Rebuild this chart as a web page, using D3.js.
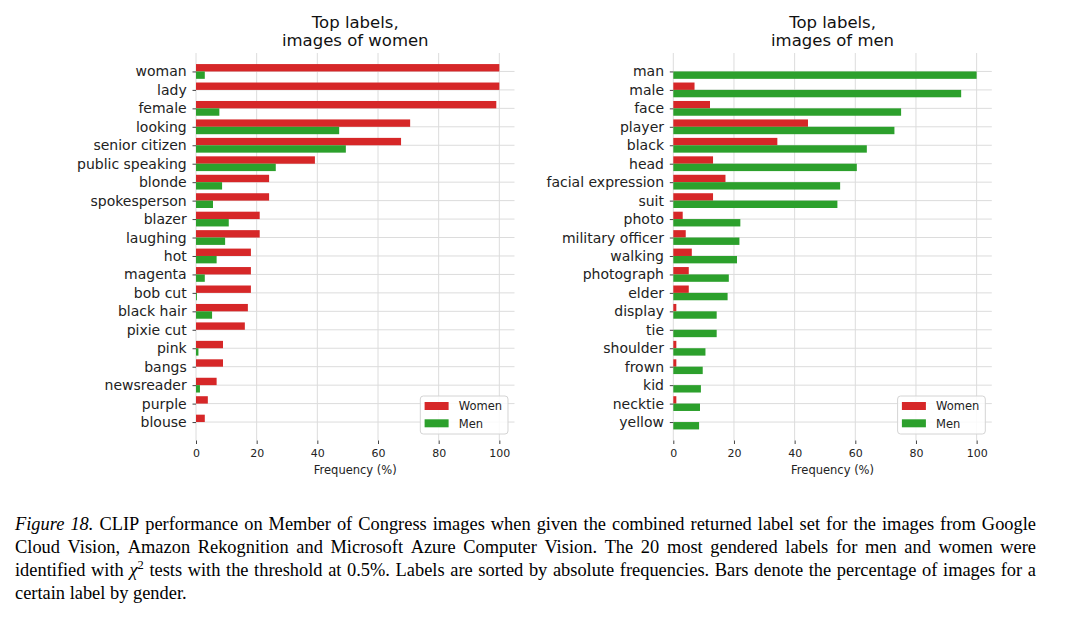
<!DOCTYPE html>
<html>
<head>
<meta charset="utf-8">
<script src="https://cdn.jsdelivr.net/npm/d3@7"></script>
<style>
  body { margin: 0; background: #fff; }
  svg { display: block; }
</style>
</head>
<body>
<svg id="fig" width="1069" height="617"></svg>
<script>
// values (% of images)
var womenLabels = ["woman", "lady", "female", "looking", "senior citizen", "public speaking", "blonde",
    "spokesperson", "blazer", "laughing", "hot", "magenta", "bob cut", "black hair", "pixie cut",
    "pink", "bangs", "newsreader", "purple", "blouse"];
var womenLabelsWomen = [100, 100, 99, 70.6, 67.6, 39.2, 24.1, 24.1, 21, 21, 18.1, 18.1, 18.1, 17.1, 16.1, 8.9, 8.9, 6.8, 3.9, 2.9];
var womenLabelsMen = [2.9, 0, 7.7, 47.2, 49.4, 26.3, 8.6, 5.6, 10.8, 9.6, 6.8, 2.9, 0.3, 5.3, 0, 0.8, 0, 1.3, 0, 0];

var menLabels = ["man", "male", "face", "player", "black", "head", "facial expression", "suit", "photo",
    "military officer", "walking", "photograph", "elder", "display", "tie", "shoulder", "frown",
    "kid", "necktie", "yellow"];
var menLabelsWomen = [0, 7, 12.1, 44.4, 34.3, 13.1, 17.2, 13.1, 3.1, 4.1, 6.1, 5.1, 5.1, 1, 0, 1, 1, 0, 1, 0];
var menLabelsMen = [100, 94.9, 75.1, 72.9, 63.8, 60.5, 55, 54.1, 22.1, 21.8, 21, 18.3, 17.9, 14.3, 14.3, 10.6, 9.7, 9.1, 8.8, 8.5];

var xTicks = [0, 20, 40, 60, 80, 100];
var seriesNames = ["Women", "Men"];
var seriesColors = ["#d62728", "#2ca02c"];

var captionLines = [
    "Figure 18. CLIP performance on Member of Congress images when given the combined returned label set for the images from Google",
    "Cloud Vision, Amazon Rekognition and Microsoft Azure Computer Vision.  The 20 most gendered labels for men and women were",
    "identified with χ² tests with the threshold at 0.5%. Labels are sorted by absolute frequencies. Bars denote the percentage of images for a",
    "certain label by gender."
];

var svg = d3.select("#fig");
var sans = "DejaVu Sans, sans-serif";
var plotTop = 53, plotBottom = 440.5;

function drawPanel(opts) {
    var x = d3.scaleLinear().domain([0, 105]).range([opts.left, opts.right]);
    var y = d3.scaleLinear().domain([-1, 20]).range([plotTop, plotBottom]);
    var rows = d3.range(opts.labels.length);
    var barH = y(0.4) - y(0);
    var g = svg.append("g");

    // grid
    g.selectAll(".vgrid").data(xTicks).enter().append("line")
        .attr("x1", d => x(d)).attr("x2", d => x(d))
        .attr("y1", plotTop).attr("y2", plotBottom)
        .attr("stroke", "#dcdcdc").attr("stroke-width", 1);
    g.selectAll(".hgrid").data(rows).enter().append("line")
        .attr("x1", opts.left).attr("x2", opts.right)
        .attr("y1", d => y(d)).attr("y2", d => y(d))
        .attr("stroke", "#dcdcdc").attr("stroke-width", 1);

    // bars: women above the tick, men below
    g.selectAll(".bw").data(opts.women).enter().append("rect")
        .attr("x", x(0))
        .attr("y", (d, i) => y(i - 0.4))
        .attr("width", d => x(d) - x(0))
        .attr("height", barH)
        .attr("fill", seriesColors[0]);
    g.selectAll(".bm").data(opts.men).enter().append("rect")
        .attr("x", x(0))
        .attr("y", (d, i) => y(i))
        .attr("width", d => x(d) - x(0))
        .attr("height", barH)
        .attr("fill", seriesColors[1]);

    // axes
    var yAxis = g.append("g")
        .attr("transform", `translate(${opts.left},0)`)
        .call(d3.axisLeft(y).tickValues(rows).tickFormat(i => opts.labels[i]).tickSize(3.5).tickPadding(5.8));
    yAxis.select(".domain").remove();
    yAxis.selectAll("line").attr("stroke", "#444");
    yAxis.selectAll("text").attr("font-family", sans).attr("font-size", 14).attr("fill", "#222");

    var xAxis = g.append("g")
        .attr("transform", `translate(0,${plotBottom})`)
        .call(d3.axisBottom(x).tickValues(xTicks).tickSize(3.5).tickPadding(5));
    xAxis.select(".domain").remove();
    xAxis.selectAll("line").attr("stroke", "#444");
    xAxis.selectAll("text").attr("font-family", sans).attr("font-size", 11).attr("fill", "#222");

    g.append("text")
        .attr("x", (opts.left + opts.right) / 2).attr("y", 474)
        .attr("text-anchor", "middle")
        .attr("font-family", sans).attr("font-size", 11.5).attr("fill", "#222")
        .text("Frequency (%)");

    // title
    var cx = (opts.left + opts.right) / 2;
    opts.title.forEach(function (t, i) {
        g.append("text")
            .attr("x", cx).attr("y", 27.5 + i * 18.8)
            .attr("text-anchor", "middle")
            .attr("font-family", sans).attr("font-size", 16.5).attr("fill", "#111")
            .text(t);
    });

    // legend
    var lx = opts.right - 6.5 - 87.7, ly = 396;
    var leg = g.append("g").attr("transform", `translate(${lx},${ly})`);
    leg.append("rect")
        .attr("width", 87.7).attr("height", 38).attr("rx", 3)
        .attr("fill", "#fff").attr("fill-opacity", 0.85)
        .attr("stroke", "#d4d4d4");
    seriesNames.forEach(function (name, i) {
        leg.append("rect")
            .attr("x", 4.3).attr("y", 6 + i * 17.3)
            .attr("width", 24).attr("height", 8)
            .attr("fill", seriesColors[i]);
        leg.append("text")
            .attr("x", 38.5).attr("y", 14.2 + i * 17.3)
            .attr("font-family", sans).attr("font-size", 11.5).attr("fill", "#222")
            .text(name);
    });
}

drawPanel({ left: 196, right: 514.5, labels: womenLabels, women: womenLabelsWomen, men: womenLabelsMen,
    title: ["Top labels,", "images of women"] });
drawPanel({ left: 673.3, right: 991.8, labels: menLabels, women: menLabelsWomen, men: menLabelsMen,
    title: ["Top labels,", "images of men"] });

// caption, justified word by word
var capLeft = 15, capRight = 1036, serif = "Liberation Serif, Times New Roman, serif";
var cap = svg.append("g").attr("font-family", serif).attr("font-size", 18.4).attr("fill", "#000");

captionLines.forEach(function (line, li) {
    var words = line.split(/ +/);
    var baseline = 529.5 + li * 23.2;
    var nodes = words.map(function (w, wi) {
        var t = cap.append("text").attr("y", baseline);
        if (li === 0 && wi < 2) {
            t.attr("font-style", "italic").text(w);
        } else if (w === "χ²") {
            t.append("tspan").attr("font-style", "italic").text("χ");
            t.append("tspan").attr("font-size", 12.5).attr("dy", -7).text("2");
        } else {
            t.text(w);
        }
        return t;
    });
    var widths = nodes.map(n => n.node().getComputedTextLength());
    var total = d3.sum(widths);
    var last = li === captionLines.length - 1;
    var gap = last ? 4.6 : (capRight - capLeft - total) / (words.length - 1);
    var xPos = capLeft;
    nodes.forEach(function (n, i) {
        n.attr("x", xPos);
        n.selectAll("tspan").filter((d, k) => k === 0).attr("x", xPos);
        xPos += widths[i] + gap;
    });
});
</script>
</body>
</html>
